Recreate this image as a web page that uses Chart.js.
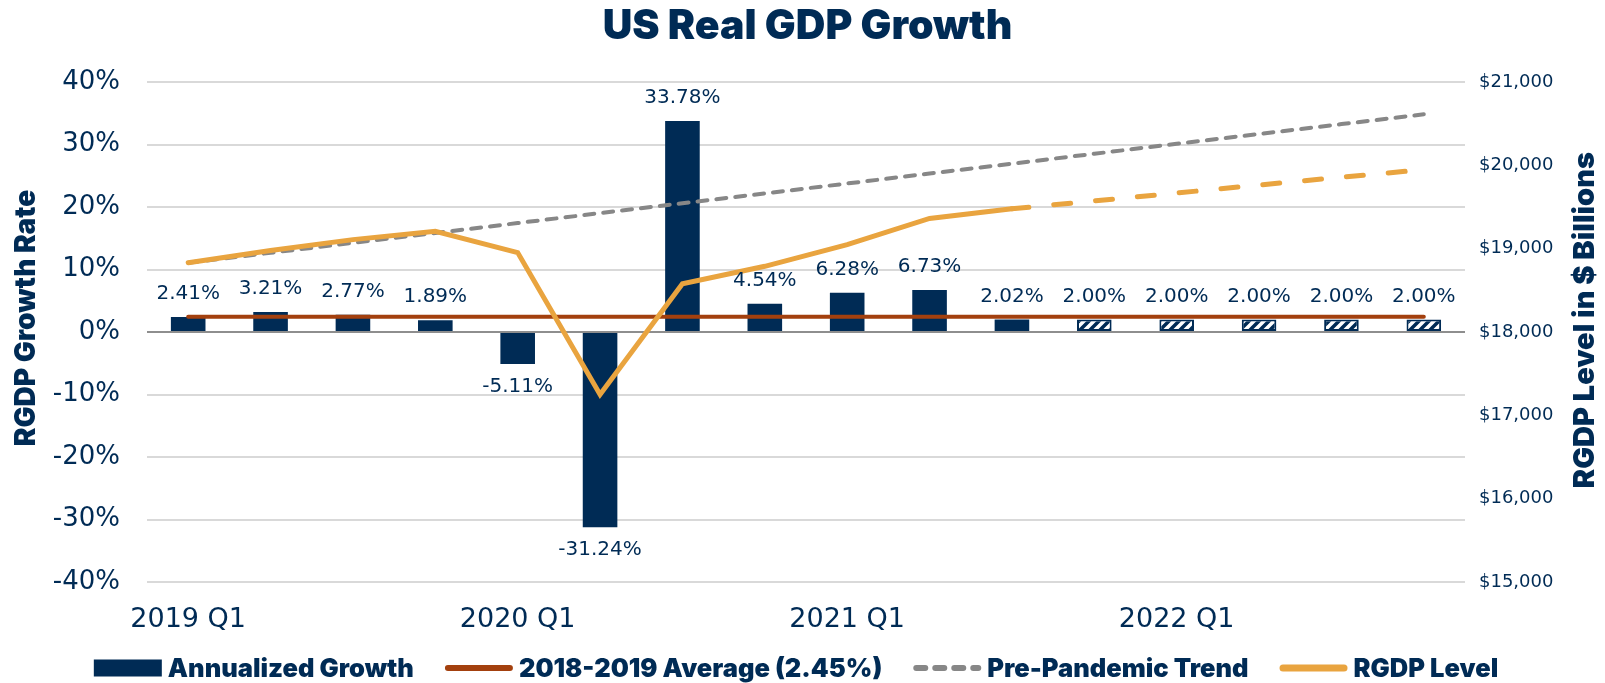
<!DOCTYPE html>
<html>
<head>
<meta charset="utf-8">
<script src="https://cdn.jsdelivr.net/npm/chart.js@4/dist/chart.umd.min.js"></script>
<style>
  html, body { margin: 0; padding: 0; background: #ffffff; }
  #wrap { width: 1605px; height: 683px; }
</style>
</head>
<body>
<div id="wrap"><canvas id="c" width="1605" height="683"></canvas></div>
<script>
// ---------------- DATA ----------------
const quarters = ['2019 Q1','2019 Q2','2019 Q3','2019 Q4','2020 Q1','2020 Q2','2020 Q3','2020 Q4',
                  '2021 Q1','2021 Q2','2021 Q3','2021 Q4','2022 Q1','2022 Q2','2022 Q3','2022 Q4'];
const growthRate = [2.41, 3.21, 2.77, 1.89, -5.11, -31.24, 33.78, 4.54, 6.28, 6.73, 2.02, 2.00, 2.00, 2.00, 2.00, 2.00];
const isForecast = [false,false,false,false,false,false,false,false,false,false,false,true,true,true,true,true];
const averageRate = [2.45,2.45,2.45,2.45,2.45,2.45,2.45,2.45,2.45,2.45,2.45,2.45,2.45,2.45,2.45,2.45];
const trendLevel = [18833, 18952, 19071, 19190, 19309, 19428, 19547, 19665, 19784, 19903, 20022, 20141, 20260, 20379, 20497, 20615];
const rgdpLevel = [18833, 18980, 19110, 19210, 18955, 17250, 18580, 18790, 19050, 19365, 19480, null, null, null, null, null];
const forecastLevel = [null, null, null, null, null, null, null, null, null, null, 19480, 19575, 19670, 19765, 19860, 19950];
const legendNames = ['Annualized Growth', '2018-2019 Average (2.45%)', 'Pre-Pandemic Trend', 'RGDP Level'];
const axisTitles = ['RGDP Growth Rate', 'RGDP Level in $ Billions'];
const xTickEvery = 4;

// ---------------- STYLE ----------------
const NAVY = '#002B55';
const RUST = '#A3400E';
const GREY = '#878787';
const ORANGE = '#E9A43F';
const HEAVY = 'Inter';
const REG = '"DejaVu Sans"';

const canvas = document.getElementById('c');
const ctx0 = canvas.getContext('2d');

function makeHatch() {
  const c = document.createElement('canvas');
  c.width = 10; c.height = 10;
  const g = c.getContext('2d');
  g.fillStyle = '#ffffff';
  g.fillRect(0, 0, 10, 10);
  g.strokeStyle = NAVY;
  g.lineWidth = 3.5;
  g.beginPath();
  g.moveTo(-2, 12); g.lineTo(12, -2);
  g.moveTo(-7, 7); g.lineTo(7, -7);
  g.moveTo(3, 17); g.lineTo(17, 3);
  g.stroke();
  return ctx0.createPattern(c, 'repeat');
}
const hatch = makeHatch();

const barFill = isForecast.map(f => f ? hatch : NAVY);
const barBorderW = isForecast.map(f => f ? 2 : 0);

// value labels on the bars
const barLabels = {
  id: 'barLabels',
  afterDatasetsDraw(chart) {
    const meta = chart.getDatasetMeta(0);
    const ctx = chart.ctx;
    ctx.save();
    ctx.font = '20px ' + REG;
    ctx.fillStyle = NAVY;
    ctx.textAlign = 'center';
    ctx.textBaseline = 'middle';
    meta.data.forEach((el, i) => {
      const v = growthRate[i];
      const y = v >= 0 ? el.y - 23 : el.y + 23;
      ctx.fillText(v.toFixed(2) + '%', el.x, y);
    });
    ctx.restore();
  }
};

// axis titles (both read bottom to top) and bottom legend
const extras = {
  id: 'extras',
  afterDraw(chart) {
    const ctx = chart.ctx;
    const area = chart.chartArea;
    const mid = (area.top + area.bottom) / 2;
    const drawVTitle = (text, x, y, size) => {
      ctx.save();
      ctx.translate(x, y);
      ctx.rotate(-Math.PI / 2);
      ctx.font = '900 ' + size + 'px ' + HEAVY;
      ctx.fillStyle = NAVY;
      ctx.textAlign = 'center';
      ctx.textBaseline = 'middle';
      ctx.fillText(text, 0, 0);
      ctx.restore();
    };
    drawVTitle(axisTitles[0], 27, mid - 14, 28);
    drawVTitle(axisTitles[1], 1585, mid - 12, 29);

    // legend
    ctx.save();
    ctx.font = '900 25.5px ' + HEAVY;
    ctx.textBaseline = 'middle';
    ctx.textAlign = 'left';
    const sw = 68, gapT = 6, gapI = 31, cy = 668;
    const widths = legendNames.map(t => ctx.measureText(t).width);
    let total = 0;
    widths.forEach(w => { total += sw + gapT + w; });
    total += gapI * (legendNames.length - 1);
    let x = 796 - total / 2;
    const styles = [
      { kind: 'box', color: NAVY },
      { kind: 'line', color: RUST, w: 6, dash: [] },
      { kind: 'line', color: GREY, w: 6, dash: [9, 10] },
      { kind: 'line', color: ORANGE, w: 7, dash: [] }
    ];
    legendNames.forEach((t, i) => {
      const s = styles[i];
      if (s.kind === 'box') {
        ctx.fillStyle = s.color;
        ctx.fillRect(x, cy - 8.5, sw, 17);
      } else {
        ctx.beginPath();
        ctx.strokeStyle = s.color;
        ctx.lineWidth = s.w;
        ctx.lineCap = 'round';
        ctx.setLineDash(s.dash);
        ctx.moveTo(x + s.w / 2, cy);
        ctx.lineTo(x + sw - s.w / 2, cy);
        ctx.stroke();
        ctx.setLineDash([]);
      }
      ctx.fillStyle = NAVY;
      ctx.fillText(t, x + sw + gapT, cy + 1);
      x += sw + gapT + widths[i] + gapI;
    });
    ctx.restore();
  }
};

const chart = new Chart(canvas, {
  data: {
    labels: quarters,
    datasets: [
      {
        type: 'bar',
        label: legendNames[0],
        data: growthRate,
        yAxisID: 'y',
        backgroundColor: barFill,
        borderColor: NAVY,
        borderWidth: barBorderW,
        borderSkipped: false,
        categoryPercentage: 1.0,
        barPercentage: 0.42,
        order: 10
      },
      {
        type: 'line',
        label: legendNames[1],
        data: averageRate,
        yAxisID: 'y',
        borderColor: RUST,
        borderWidth: 4,
        borderCapStyle: 'round',
        pointRadius: 0,
        fill: false,
        order: 4
      },
      {
        type: 'line',
        label: legendNames[2],
        data: trendLevel,
        yAxisID: 'y1',
        borderColor: GREY,
        borderWidth: 4,
        borderDash: [10, 9],
        borderCapStyle: 'round',
        pointRadius: 0,
        fill: false,
        order: 3
      },
      {
        type: 'line',
        label: legendNames[3],
        data: rgdpLevel,
        yAxisID: 'y1',
        borderColor: ORANGE,
        borderWidth: 5,
        borderCapStyle: 'round',
        borderJoinStyle: 'miter',
        pointRadius: 0,
        fill: false,
        spanGaps: false,
        order: 1
      },
      {
        type: 'line',
        label: 'RGDP Level (projected)',
        data: forecastLevel,
        yAxisID: 'y1',
        borderColor: ORANGE,
        borderWidth: 5,
        borderDash: [17, 25],
        borderCapStyle: 'round',
        pointRadius: 0,
        fill: false,
        order: 2
      }
    ]
  },
  options: {
    responsive: false,
    devicePixelRatio: 1,
    animation: false,
    layout: { padding: { left: 10, right: 0, top: 0, bottom: 30 } },
    plugins: {
      tooltip: { enabled: false },
      legend: { display: false },
      title: {
        display: true,
        text: 'US Real GDP Growth',
        color: NAVY,
        font: { family: HEAVY, weight: '900', size: 41 },
        padding: { top: 2, bottom: 31 }
      }
    },
    scales: {
      x: {
        type: 'category',
        offset: true,
        grid: { display: false, drawTicks: false },
        border: { display: false },
        ticks: {
          autoSkip: false,
          maxRotation: 0,
          padding: 22,
          color: NAVY,
          font: { family: REG, size: 27 },
          callback: function (v, i) { return i % xTickEvery === 0 ? this.getLabelForValue(v) : ''; }
        },
        afterFit(s) { s.height = 71; }
      },
      y: {
        position: 'left',
        min: -40, max: 40,
        border: { display: false },
        grid: {
          drawTicks: false,
          lineWidth: 2,
          color: (c) => (c.tick && c.tick.value === 0) ? '#8E8E8E' : '#D9D9D9'
        },
        ticks: {
          stepSize: 10,
          padding: 27,
          color: NAVY,
          font: { family: REG, size: 26 },
          callback: (v) => v + '%'
        },
        afterFit(s) { s.width = 137; }
      },
      y1: {
        position: 'right',
        min: 15000, max: 21000,
        border: { display: false },
        grid: { display: false, drawTicks: false },
        ticks: {
          stepSize: 1000,
          padding: 14,
          color: NAVY,
          font: { family: REG, size: 18 },
          callback: (v) => '$' + v.toLocaleString('en-US')
        },
        afterFit(s) { s.width = 140; }
      }
    }
  },
  plugins: [barLabels, extras]
});
</script>
</body>
</html>
